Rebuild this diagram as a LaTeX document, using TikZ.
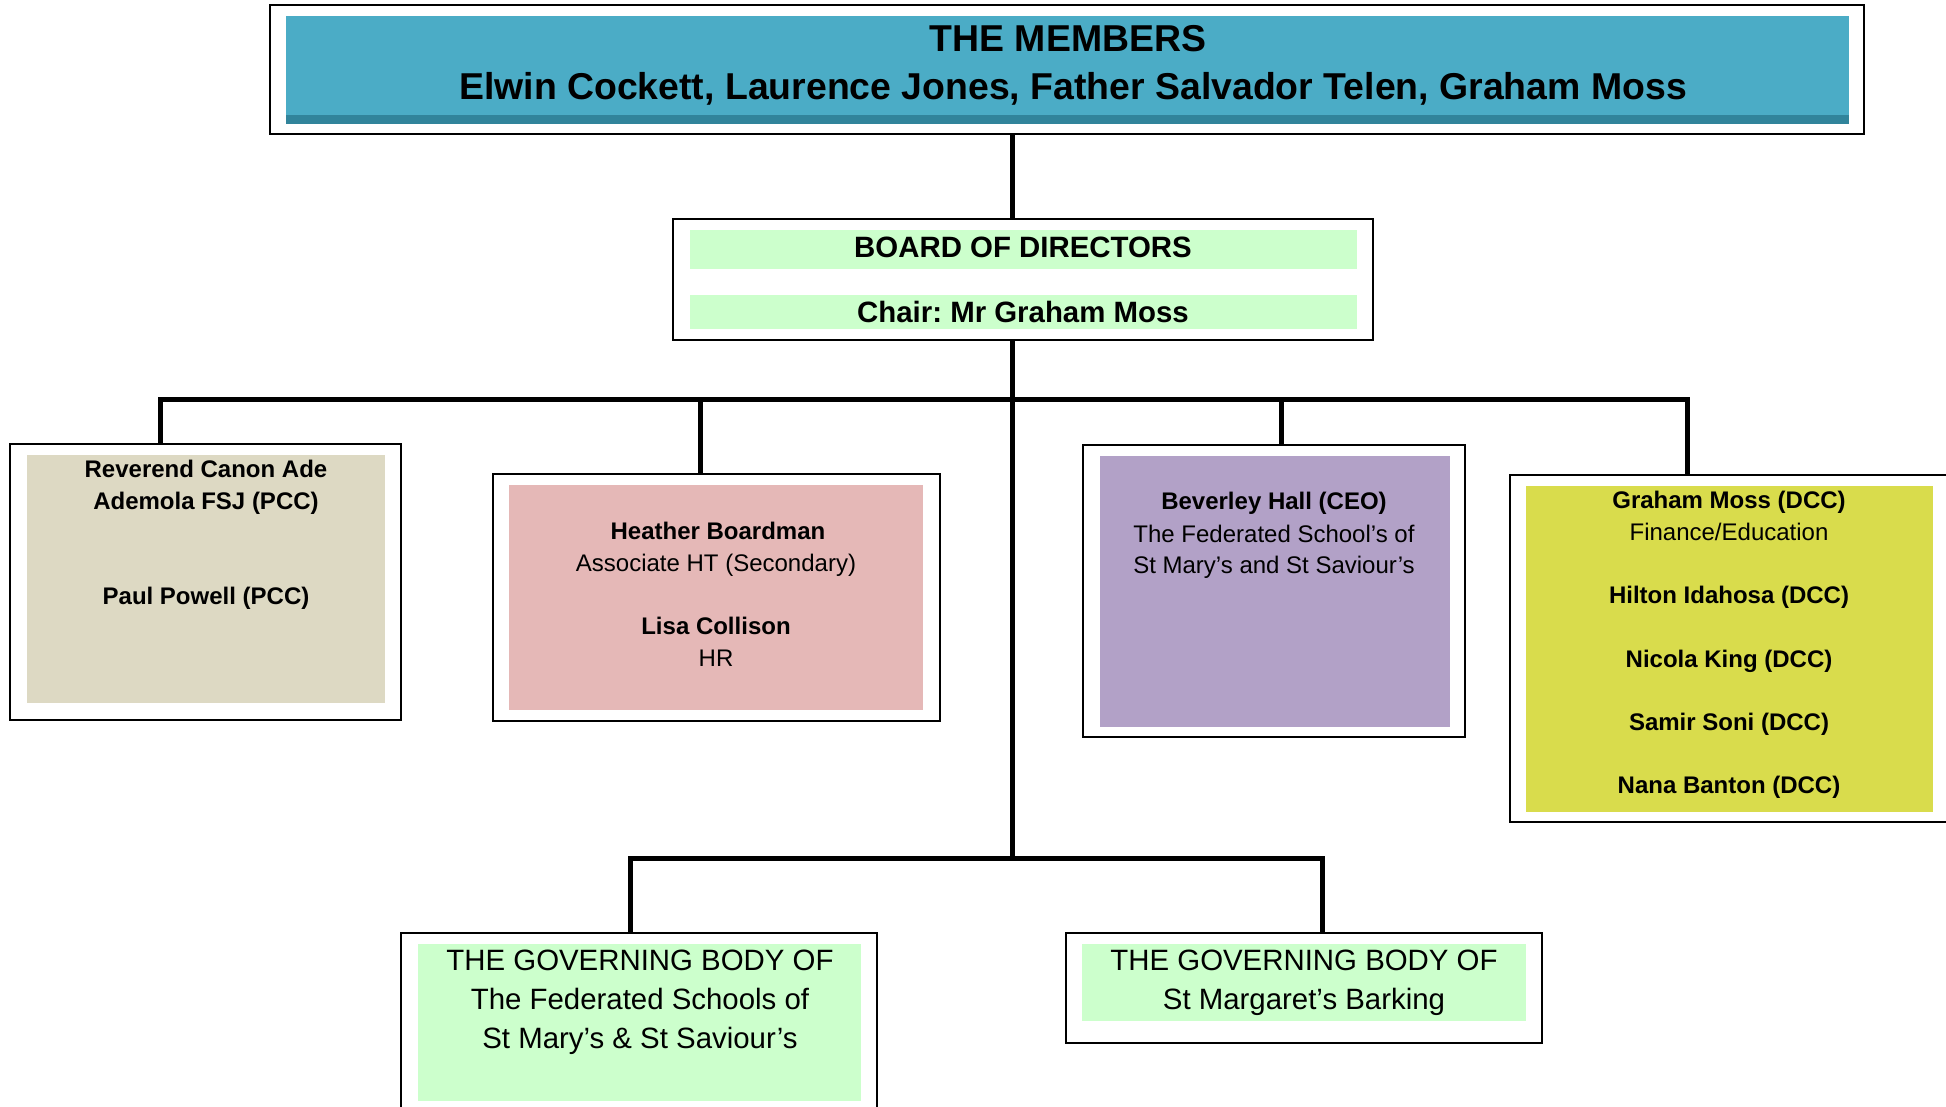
\documentclass[tikz,border=0pt]{standalone}
\usepackage{fontspec}
\setmainfont{Liberation Sans}
\frenchspacing
\definecolor{tealfill}{HTML}{4BACC6}
\definecolor{tealdark}{HTML}{31849B}
\definecolor{mintfill}{HTML}{CCFFCC}
\definecolor{beigefill}{HTML}{DDD9C3}
\definecolor{pinkfill}{HTML}{E5B8B7}
\definecolor{purplefill}{HTML}{B2A1C7}
\definecolor{yellowfill}{HTML}{D9DC4C}
\tikzset{
  frame/.style={draw=black, line width=2pt, fill=white, inner sep=0pt, outer sep=0pt},
  conn/.style={draw=black, line width=5pt, line join=miter},
  txt/.style={anchor=base, inner sep=0pt, outer sep=0pt},
  ftitle/.style={txt, font=\fontsize{37.4}{44}\selectfont\bfseries},
  fboard/.style={txt, font=\fontsize{29.4}{34}\selectfont\bfseries},
  fname/.style={txt, font=\fontsize{24}{28}\selectfont\bfseries},
  frole/.style={txt, font=\fontsize{24}{28}\selectfont},
  fgov/.style={txt, font=\fontsize{29.4}{34}\selectfont},
}
\begin{document}
\begin{tikzpicture}[x=1pt, y=-1pt]
\useasboundingbox (0,0) rectangle (1946,1106);
\clip (0,0) rectangle (1946,1106);

% ---------- outer frames ----------
\node[frame, minimum width=1594pt, minimum height=129pt] (members) at (1067,69.5) {};
\node[frame, minimum width=700pt, minimum height=121pt] (board) at (1023,279.5) {};
\node[frame, minimum width=391pt, minimum height=276pt] (rev) at (205.5,582) {};
\node[frame, minimum width=447pt, minimum height=247pt] (hea) at (716.5,597.5) {};
\node[frame, minimum width=382pt, minimum height=292pt] (bev) at (1274,591) {};
\node[frame, minimum width=460pt, minimum height=347pt] (gra) at (1740,648.5) {};
\node[frame, minimum width=476pt, minimum height=187pt] (gbone) at (639,1026.5) {};
\node[frame, minimum width=476pt, minimum height=110pt] (gbtwo) at (1304,988) {};

% ---------- inner fills ----------
\fill[tealfill] (286,16) rectangle (1849,124);
\fill[tealdark] (286,115) rectangle (1849,124);
\fill[mintfill] (690,230) rectangle (1357,269);
\fill[mintfill] (690,295) rectangle (1357,329);
\fill[beigefill] (27,455) rectangle (385,703);
\fill[pinkfill] (509,485) rectangle (923,710);
\fill[purplefill] (1100,456) rectangle (1450,727);
\fill[yellowfill] (1526,486) rectangle (1933,812);
\fill[mintfill] (418,944) rectangle (861,1101);
\fill[mintfill] (1082,944) rectangle (1526,1021);

% ---------- connector junctions ----------
\coordinate (trunk) at (1012,399);
\coordinate (busL) at (160,399);
\coordinate (busR) at (1687,399);
\coordinate (jHea) at (700,399);
\coordinate (jBev) at (1281,399);
\coordinate (lowC) at (1012,858);
\coordinate (lowL) at (630,858);
\coordinate (lowR) at (1322,858);

\draw[conn] (members.south -| trunk) -- (board.north -| trunk);
\draw[conn] (board.south -| trunk) -- (lowC);
\draw[conn] (rev.north -| busL) -- (busL) -- (busR) -- (gra.north -| busR);
\draw[conn] (jHea) -- (hea.north -| jHea);
\draw[conn] (jBev) -- (bev.north -| jBev);
\draw[conn] (gbone.north -| lowL) -- (lowL) -- (lowR) -- (gbtwo.north -| lowR);

% ---------- texts ----------
\node[ftitle] (m1) at (1068,51) {THE MEMBERS};
\node[ftitle] (m2) at (1073,99) {Elwin Cockett, Laurence Jones, Father Salvador Telen, Graham Moss};

\node[fboard] (b1) at (1023,257) {BOARD OF DIRECTORS};
\node[fboard] (b2) at (1023,322) {Chair: Mr Graham Moss};

\node[fname] (r1) at (206,477) {Reverend Canon Ade};
\node[fname] (r2) at (206,509) {Ademola FSJ (PCC)};
\node[fname] (r3) at (206,604) {Paul Powell (PCC)};

\node[fname] (h1) at (718,539) {Heather Boardman};
\node[frole] (h2) at (716,571) {Associate HT (Secondary)};
\node[fname] (h3) at (716,634) {Lisa Collison};
\node[frole] (h4) at (716,666) {HR};

\node[fname] (v1) at (1274,509) {Beverley Hall (CEO)};
\node[frole] (v2) at (1274,542) {The Federated School’s of};
\node[frole] (v3) at (1274,573) {St Mary’s and St Saviour’s};

\node[fname] (g1) at (1729,508) {Graham Moss (DCC)};
\node[frole] (g2) at (1729,540) {Finance/Education};
\node[fname] (g3) at (1729,603) {Hilton Idahosa (DCC)};
\node[fname] (g4) at (1729,667) {Nicola King (DCC)};
\node[fname] (g5) at (1729,730) {Samir Soni (DCC)};
\node[fname] (g6) at (1729,793) {Nana Banton (DCC)};

\node[fgov] (s1) at (640,970) {THE GOVERNING BODY OF};
\node[fgov] (s2) at (640,1009) {The Federated Schools of};
\node[fgov] (s3) at (640,1048) {St Mary’s \& St Saviour’s};

\node[fgov] (t1) at (1304,970) {THE GOVERNING BODY OF};
\node[fgov] (t2) at (1304,1009) {St Margaret’s Barking};
\end{tikzpicture}
\end{document}
